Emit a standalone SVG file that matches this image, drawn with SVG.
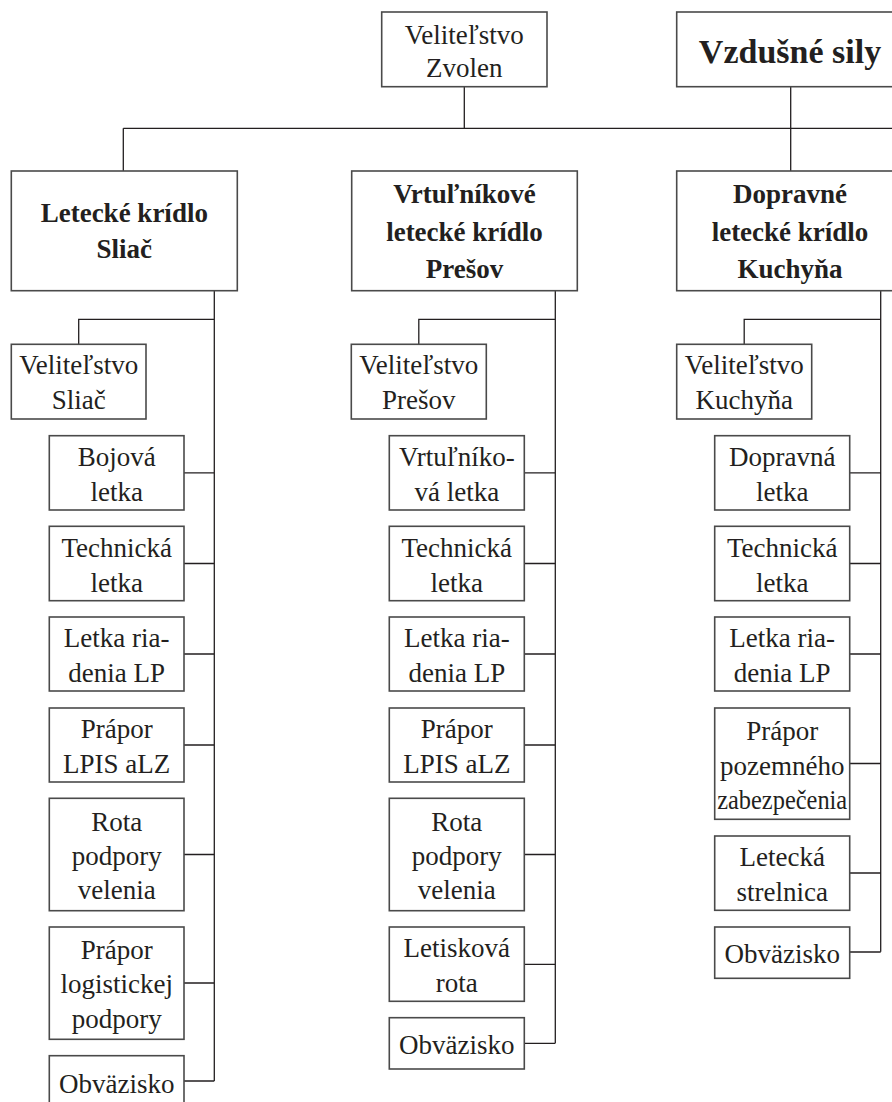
<svg xmlns="http://www.w3.org/2000/svg" width="892" height="1102" viewBox="0 0 892 1102">
<style>
.box{fill:#fff;stroke:#4a4a4a;stroke-width:1.6}
.ln{fill:none;stroke:#231f20;stroke-width:1.3}
text{font-family:"Liberation Serif","Times New Roman",serif;fill:#231f20;text-anchor:middle}
.r{font-size:27px}
.b{font-size:27px;font-weight:bold}
.t{font-size:34px;font-weight:bold}
</style>
<rect width="892" height="1102" fill="#fff"/>
<g id="connectors">
<path class="ln" d="M464.3 86.7V128.3M123.3 128.3H892M123.3 128.3V171M790.7 86.7V171"/>
<path class="ln" d="M214.3 290.7V1081M78.7 344.3V319.3H214.3M184 472.8H214.3M184 563.5H214.3M184 654H214.3M184 745H214.3M184 854.5H214.3M184 983H214.3M184 1081H214.3"/>
<path class="ln" d="M555.3 290.7V1043.3M418.8 344.3V319.3H555.3M524.3 472.8H555.3M524.3 563.5H555.3M524.3 654H555.3M524.3 745H555.3M524.3 854.5H555.3M524.3 964.3H555.3M524.3 1043.3H555.3"/>
<path class="ln" d="M880.7 290.7V951.7M744.2 344.3V319.3H880.7M849.7 472.8H880.7M849.7 563.5H880.7M849.7 654H880.7M849.7 763.5H880.7M849.7 873H880.7M849.7 952H880.7"/>
</g>
<g id="velitelstvo-zvolen"><rect class="box" x="381.7" y="12" width="165.3" height="74.7"/><text class="r" x="464.3" y="44">Veliteľstvo</text><text class="r" x="464.3" y="77">Zvolen</text></g>
<g id="vzdusne-sily"><rect class="box" x="676.7" y="12" width="227" height="74.7"/><text class="t" x="790" y="63.3">Vzdušné sily</text></g>
<g id="kridlo-sliac"><rect class="box" x="11.3" y="171" width="226" height="119.7"/><text class="b" x="124.3" y="221.7">Letecké krídlo</text><text class="b" x="124.3" y="258.3">Sliač</text></g>
<g id="kridlo-presov"><rect class="box" x="351.7" y="171" width="225.6" height="119.7"/><text class="b" x="464.5" y="203.3">Vrtuľníkové</text><text class="b" x="464.5" y="240.7">letecké krídlo</text><text class="b" x="464.5" y="278.3">Prešov</text></g>
<g id="kridlo-kuchyna"><rect class="box" x="676.7" y="171" width="227" height="119.7"/><text class="b" x="790" y="203.3">Dopravné</text><text class="b" x="790" y="240.7">letecké krídlo</text><text class="b" x="790" y="278.3">Kuchyňa</text></g>

<g id="vel-sliac"><rect class="box" x="11.3" y="344.3" width="134.7" height="74.7"/><text class="r" x="78.7" y="374.3">Veliteľstvo</text><text class="r" x="78.7" y="409.3">Sliač</text></g>
<g id="l-bojova"><rect class="box" x="49.3" y="435.7" width="134.7" height="74.3"/><text class="r" x="116.7" y="465.5">Bojová</text><text class="r" x="116.7" y="500.5">letka</text></g>
<g id="l-technicka"><rect class="box" x="49.3" y="526.3" width="134.7" height="74.4"/><text class="r" x="116.7" y="556.5">Technická</text><text class="r" x="116.7" y="591.5">letka</text></g>
<g id="l-riadenia"><rect class="box" x="49.3" y="617" width="134.7" height="74"/><text class="r" x="116.7" y="647">Letka ria-</text><text class="r" x="116.7" y="682">denia LP</text></g>
<g id="l-lpis"><rect class="box" x="49.3" y="708" width="134.7" height="74"/><text class="r" x="116.7" y="738">Prápor</text><text class="r" x="116.7" y="773">LPIS aLZ</text></g>
<g id="l-rota"><rect class="box" x="49.3" y="798.3" width="134.7" height="112.4"/><text class="r" x="116.7" y="830.5">Rota</text><text class="r" x="116.7" y="864.5">podpory</text><text class="r" x="116.7" y="899">velenia</text></g>
<g id="l-logistika"><rect class="box" x="49.3" y="927" width="134.7" height="112.3"/><text class="r" x="116.7" y="958.5">Prápor</text><text class="r" x="116.7" y="993">logistickej</text><text class="r" x="116.7" y="1028">podpory</text></g>
<g id="l-obvazisko"><rect class="box" x="49.3" y="1055.7" width="134.7" height="51.3"/><text class="r" x="116.7" y="1092.5">Obväzisko</text></g>

<g id="vel-presov"><rect class="box" x="351.3" y="344.3" width="135" height="74.7"/><text class="r" x="418.8" y="374.3">Veliteľstvo</text><text class="r" x="418.8" y="409.3">Prešov</text></g>
<g id="m-vrtulnikova"><rect class="box" x="389.3" y="435.7" width="135" height="74.3"/><text class="r" x="456.8" y="465.5">Vrtuľníko-</text><text class="r" x="456.8" y="500.5">vá letka</text></g>
<g id="m-technicka"><rect class="box" x="389.3" y="526.3" width="135" height="74.4"/><text class="r" x="456.8" y="556.5">Technická</text><text class="r" x="456.8" y="591.5">letka</text></g>
<g id="m-riadenia"><rect class="box" x="389.3" y="617" width="135" height="74"/><text class="r" x="456.8" y="647">Letka ria-</text><text class="r" x="456.8" y="682">denia LP</text></g>
<g id="m-lpis"><rect class="box" x="389.3" y="708" width="135" height="74"/><text class="r" x="456.8" y="738">Prápor</text><text class="r" x="456.8" y="773">LPIS aLZ</text></g>
<g id="m-rota"><rect class="box" x="389.3" y="798.3" width="135" height="112.4"/><text class="r" x="456.8" y="830.5">Rota</text><text class="r" x="456.8" y="864.5">podpory</text><text class="r" x="456.8" y="899">velenia</text></g>
<g id="m-letiskova"><rect class="box" x="389.3" y="927" width="135" height="74.3"/><text class="r" x="456.8" y="957">Letisková</text><text class="r" x="456.8" y="992">rota</text></g>
<g id="m-obvazisko"><rect class="box" x="389.3" y="1017.7" width="135" height="51.3"/><text class="r" x="456.8" y="1054">Obväzisko</text></g>

<g id="vel-kuchyna"><rect class="box" x="676.7" y="344.3" width="135" height="74.7"/><text class="r" x="744.2" y="374.3">Veliteľstvo</text><text class="r" x="744.2" y="409.3">Kuchyňa</text></g>
<g id="r-dopravna"><rect class="box" x="714.7" y="435.7" width="135" height="74.3"/><text class="r" x="782.2" y="465.5">Dopravná</text><text class="r" x="782.2" y="500.5">letka</text></g>
<g id="r-technicka"><rect class="box" x="714.7" y="526.3" width="135" height="74.4"/><text class="r" x="782.2" y="556.5">Technická</text><text class="r" x="782.2" y="591.5">letka</text></g>
<g id="r-riadenia"><rect class="box" x="714.7" y="617" width="135" height="74"/><text class="r" x="782.2" y="647">Letka ria-</text><text class="r" x="782.2" y="682">denia LP</text></g>
<g id="r-pozemne"><rect class="box" x="714.7" y="708" width="135" height="111.3"/><text class="r" x="782.2" y="740">Prápor</text><text class="r" x="782.2" y="774.5">pozemného</text><text class="r" x="782.2" y="808.5" textLength="130" lengthAdjust="spacingAndGlyphs">zabezpečenia</text></g>
<g id="r-strelnica"><rect class="box" x="714.7" y="836" width="135" height="74.3"/><text class="r" x="782.2" y="866">Letecká</text><text class="r" x="782.2" y="901">strelnica</text></g>
<g id="r-obvazisko"><rect class="box" x="714.7" y="927" width="135" height="51.3"/><text class="r" x="782.2" y="963.3">Obväzisko</text></g>
</svg>
